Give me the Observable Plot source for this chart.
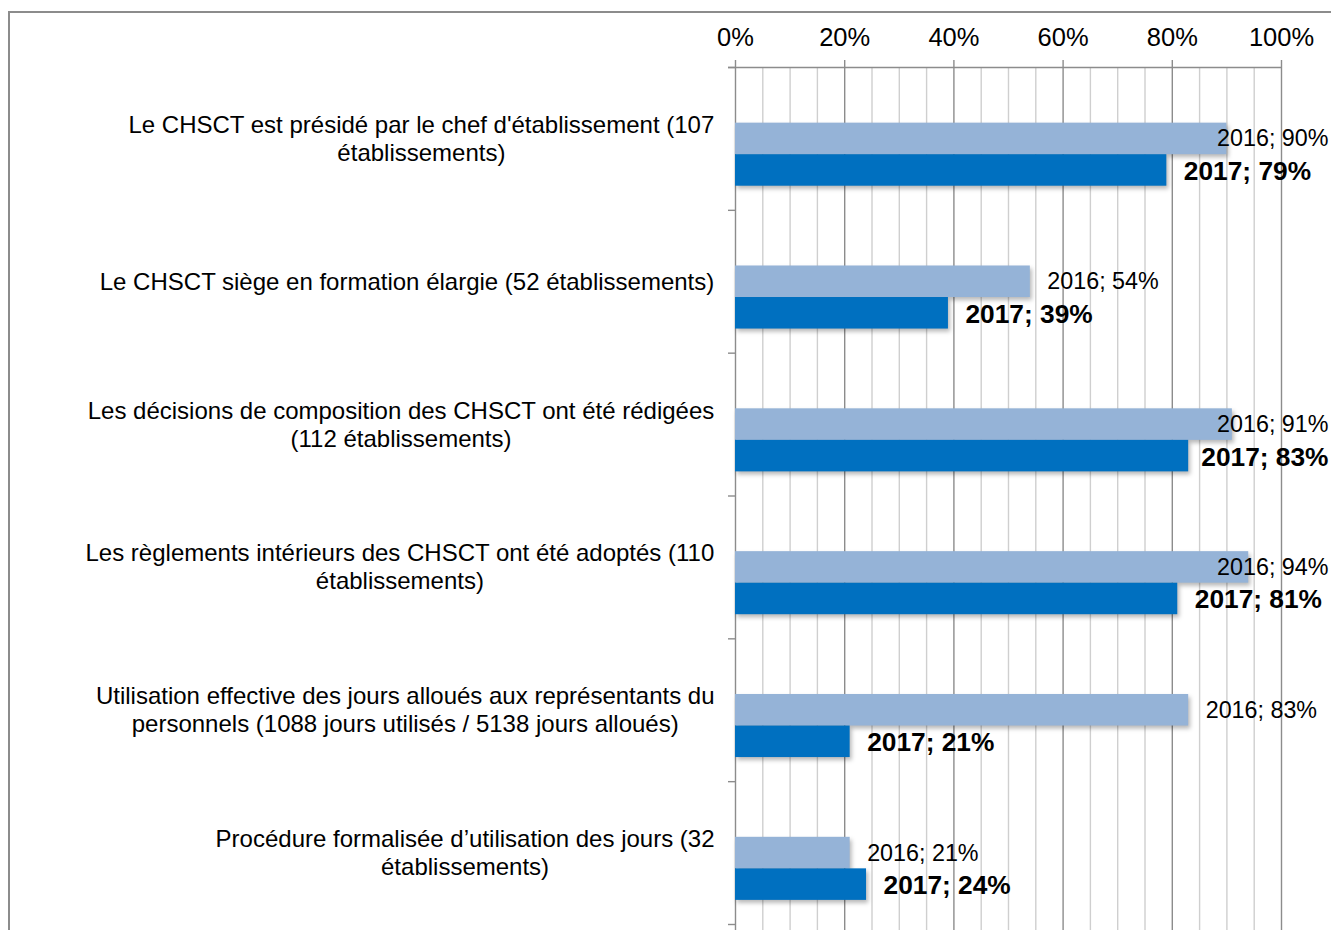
<!DOCTYPE html>
<html><head><meta charset="utf-8">
<script src="https://cdn.jsdelivr.net/npm/d3@7"></script>
<script src="https://cdn.jsdelivr.net/npm/@observablehq/plot@0.6"></script>
<style>
html,body{margin:0;padding:0;background:#fff;overflow:hidden;}
#frame{position:absolute;left:8px;top:11px;width:1400px;height:1000px;border-left:2px solid #8c8c8c;border-top:2px solid #8c8c8c;}
#chart{position:absolute;left:0;top:0;}
#chart svg g[aria-label="rect"]{filter:drop-shadow(2px 3px 2px rgba(0,0,0,0.28));}
</style></head><body>
<div id="frame"></div><div id="chart"></div>
<script>
// ---- data ----
const categories = [
  "Le CHSCT est présidé par le chef d'établissement (107\nétablissements)",
  "Le CHSCT siège en formation élargie (52 établissements)",
  "Les décisions de composition des CHSCT ont été rédigées\n(112 établissements)",
  "Les règlements intérieurs des CHSCT ont été adoptés (110\nétablissements)",
  "Utilisation effective des jours alloués aux représentants du\npersonnels (1088 jours utilisés / 5138 jours alloués)",
  "Procédure formalisée d’utilisation des jours (32\nétablissements)"
];
const seriesNames = ["2016", "2017"];
const values2016 = [90, 54, 91, 94, 83, 21];
const values2017 = [79, 39, 83, 81, 21, 24];
const xTickValues = [0, 20, 40, 60, 80, 100];
const xMinorValues = [5, 10, 15, 25, 30, 35, 45, 50, 55, 65, 70, 75, 85, 90, 95];
const seriesColors = ["#95b3d7", "#0070c0"];

// ---- layout ----
const W = 1331, H = 930;
const mL = 735, mR = 50, mT = 67, mB = 6;
const plotW = W - mL - mR;
const pxPerUnit = plotW / 100;
const gapWidth = 1.53;           // Excel-like gap width (fraction of a bar)
const slotsPerCategory = 3;      // one empty slot + 2016 + 2017
const slot = 1 / (slotsPerCategory + gapWidth);
const FONT = "Liberation Sans";
const catFont = 24, lblFont = 23.3, lblBoldFont = 26.3, tickFont = 25.5;
const labelGap = 21, valueOffset = 17, labelLimitPx = W - 3;

const ctx = document.createElement("canvas").getContext("2d");
function textWidth(str, size, weight = "normal") {
  ctx.font = `${weight} ${size}px "${FONT}"`;
  return ctx.measureText(str).width;
}
const toUnits = (px) => (px - mL) / pxPerUnit;

const seriesValues = [values2016, values2017];
const rows = categories.flatMap((c, i) => seriesNames.map((s, k) => {
  const v = seriesValues[k][i];
  const y1 = i + (gapWidth / 2 + k + 1) * slot;
  const y2 = y1 + slot;
  const text = `${s}; ${v}%`;
  const size = k === 0 ? lblFont : lblBoldFont;
  const w = textWidth(text, size, k === 0 ? "normal" : "bold");
  let startPx = mL + v * pxPerUnit + valueOffset;
  if (startPx + w > labelLimitPx) startPx = labelLimitPx - w;
  return {cat: c, i, series: s, value: v, y1, y2, yc: (y1 + y2) / 2, text, lx: toUnits(startPx)};
}));

const catRows = categories.map((c, i) => {
  const w = d3.max(c.split("\n"), (l) => textWidth(l, catFont));
  return {label: c, y: i + 0.5, x: toUnits(mL - labelGap - w / 2)};
});
const bounds = d3.range(categories.length + 1);

const chart = Plot.plot({
  width: W, height: H,
  marginLeft: mL, marginRight: mR, marginTop: mT, marginBottom: mB,
  style: {fontFamily: `"${FONT}", Arial, sans-serif`, background: "transparent", overflow: "visible"},
  x: {domain: [0, 100], axis: null},
  y: {domain: [0, categories.length], reverse: true, axis: null},
  color: {domain: seriesNames, range: seriesColors},
  marks: [
    Plot.ruleX(xMinorValues, {stroke: "#cfcfcf", strokeWidth: 1.4, insetBottom: -mB}),
    Plot.ruleX(xTickValues, {stroke: "#8c8c8c", strokeWidth: 1.4, insetBottom: -mB, insetTop: -7}),
    Plot.ruleY([0], {stroke: "#8c8c8c", strokeWidth: 1.4, insetLeft: -7}),
    Plot.axisY({anchor: "left", ticks: bounds, tickSize: 7, tickFormat: () => "", color: "#8c8c8c", strokeWidth: 1.4}),
    Plot.axisX({anchor: "top", ticks: xTickValues, tickSize: 0, tickPadding: 22, tickFormat: (d) => d + "%", fontSize: tickFont, color: "black"}),
    Plot.rectX(rows, {x1: 0, x2: "value", y1: "y1", y2: "y2", fill: "series"}),
    Plot.text(rows.filter((d) => d.series === "2016"), {x: "lx", y: "yc", text: "text", textAnchor: "start", fontSize: lblFont, fill: "black"}),
    Plot.text(rows.filter((d) => d.series === "2017"), {x: "lx", y: "yc", text: "text", textAnchor: "start", fontSize: lblBoldFont, fontWeight: "bold", fill: "black", dy: 1}),
    Plot.text(catRows, {x: "x", y: "y", text: "label", textAnchor: "middle", lineHeight: 1.17, fontSize: catFont, fill: "black", dy: -1})
  ]
});
document.getElementById("chart").appendChild(chart);
</script>
</body></html>
